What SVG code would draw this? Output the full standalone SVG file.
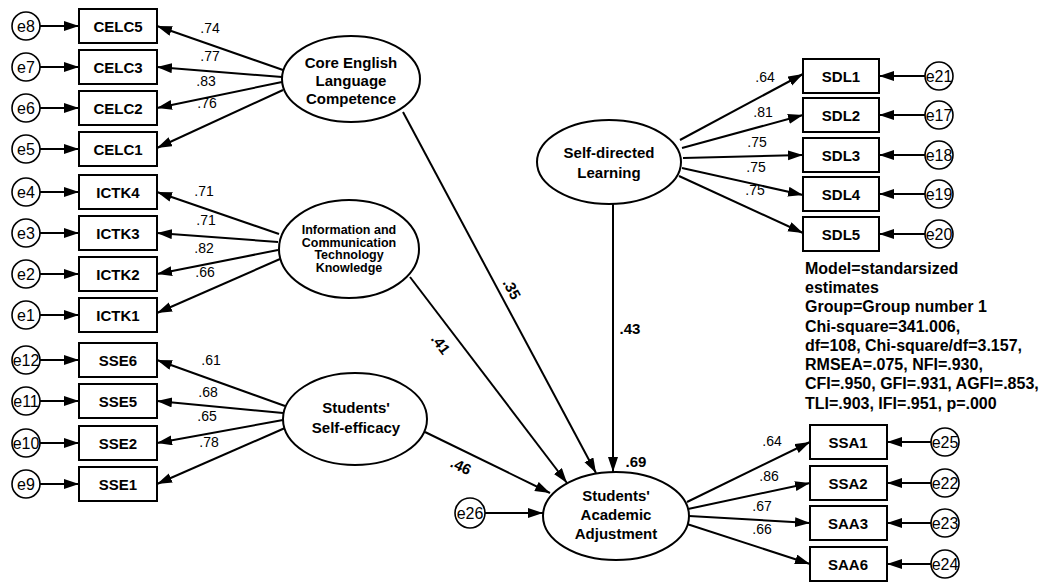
<svg xmlns="http://www.w3.org/2000/svg" width="1052" height="582" viewBox="0 0 1052 582">
<style>
.box{fill:#fff;stroke:#000;stroke-width:2}
.lat{fill:#fff;stroke:#000;stroke-width:2}
.err{fill:#fff;stroke:#000;stroke-width:1.6}
.ln{stroke:#000;stroke-width:2;fill:none;marker-end:url(#ah)}
.bt{font-family:"Liberation Sans",Arial,sans-serif;font-weight:bold;font-size:15px;text-anchor:middle;dominant-baseline:central}
.et{font-family:"Liberation Sans",Arial,sans-serif;font-size:16px;text-anchor:middle;dominant-baseline:central}
.lt{font-family:"Liberation Sans",Arial,sans-serif;font-weight:bold;font-size:15px;text-anchor:middle;dominant-baseline:central}
.it{font-family:"Liberation Sans",Arial,sans-serif;font-weight:bold;font-size:12.5px;text-anchor:middle}
.ld{font-family:"Liberation Sans",Arial,sans-serif;font-size:14px;text-anchor:middle;dominant-baseline:central}
.pc{font-family:"Liberation Sans",Arial,sans-serif;font-weight:bold;font-size:15px;text-anchor:middle;dominant-baseline:central}
.md{font-family:"Liberation Sans",Arial,sans-serif;font-weight:bold;font-size:16px}
</style>
<defs>
<marker id="ah" markerUnits="userSpaceOnUse" markerWidth="16" markerHeight="12" refX="15" refY="5" orient="auto">
<path d="M0,0 L15,5 L0,10 z" fill="#000"/>
</marker>
</defs>
<g id="connectors">
<line class="ln" x1="40" y1="26" x2="79" y2="26"/>
<line class="ln" x1="40" y1="67" x2="79" y2="67"/>
<line class="ln" x1="40" y1="108" x2="79" y2="108"/>
<line class="ln" x1="40" y1="149" x2="79" y2="149"/>
<line class="ln" x1="40" y1="192" x2="79" y2="192"/>
<line class="ln" x1="40" y1="233" x2="79" y2="233"/>
<line class="ln" x1="40" y1="274" x2="79" y2="274"/>
<line class="ln" x1="40" y1="315" x2="79" y2="315"/>
<line class="ln" x1="40" y1="360" x2="79" y2="360"/>
<line class="ln" x1="40" y1="401" x2="79" y2="401"/>
<line class="ln" x1="40" y1="443" x2="79" y2="443"/>
<line class="ln" x1="40" y1="484" x2="79" y2="484"/>
<line class="ln" x1="283" y1="70" x2="157" y2="26"/>
<line class="ln" x1="282" y1="77" x2="157" y2="67"/>
<line class="ln" x1="282" y1="82" x2="157" y2="108"/>
<line class="ln" x1="283" y1="90" x2="157" y2="148"/>
<line class="ln" x1="279" y1="234" x2="157" y2="192"/>
<line class="ln" x1="278" y1="242" x2="157" y2="233"/>
<line class="ln" x1="278" y1="250" x2="157" y2="274"/>
<line class="ln" x1="280" y1="259" x2="157" y2="313"/>
<line class="ln" x1="285" y1="406" x2="157" y2="360"/>
<line class="ln" x1="283" y1="413" x2="157" y2="401"/>
<line class="ln" x1="283" y1="420" x2="157" y2="443"/>
<line class="ln" x1="285" y1="428" x2="157" y2="484"/>
<line class="ln" x1="680" y1="140" x2="803" y2="74"/>
<line class="ln" x1="682" y1="148" x2="803" y2="115"/>
<line class="ln" x1="683" y1="158" x2="803" y2="155"/>
<line class="ln" x1="682" y1="168" x2="803" y2="195"/>
<line class="ln" x1="679" y1="176" x2="803" y2="233"/>
<line class="ln" x1="925" y1="76" x2="879" y2="76"/>
<line class="ln" x1="925" y1="115" x2="879" y2="115"/>
<line class="ln" x1="925" y1="155" x2="879" y2="155"/>
<line class="ln" x1="925" y1="194" x2="879" y2="194"/>
<line class="ln" x1="925" y1="234" x2="879" y2="234"/>
<line class="ln" x1="687" y1="502" x2="810" y2="442"/>
<line class="ln" x1="688" y1="509" x2="810" y2="483"/>
<line class="ln" x1="689" y1="516" x2="810" y2="523"/>
<line class="ln" x1="687" y1="524" x2="810" y2="564"/>
<line class="ln" x1="931" y1="442" x2="887" y2="442"/>
<line class="ln" x1="931" y1="483" x2="887" y2="483"/>
<line class="ln" x1="931" y1="523" x2="887" y2="523"/>
<line class="ln" x1="931" y1="564" x2="887" y2="564"/>
<line class="ln" x1="403" y1="112" x2="596" y2="473"/>
<line class="ln" x1="410" y1="277" x2="567" y2="483"/>
<line class="ln" x1="425" y1="432" x2="550" y2="493"/>
<line class="ln" x1="613" y1="204" x2="613" y2="472"/>
<line class="ln" x1="485" y1="513" x2="543" y2="513"/>
</g>
<g id="labels">
<text class="ld" x="210" y="28">.74</text>
<text class="ld" x="210" y="56">.77</text>
<text class="ld" x="206" y="81">.83</text>
<text class="ld" x="207" y="103">.76</text>
<text class="ld" x="204" y="191">.71</text>
<text class="ld" x="206" y="220">.71</text>
<text class="ld" x="204" y="248">.82</text>
<text class="ld" x="205" y="272">.66</text>
<text class="ld" x="211" y="360">.61</text>
<text class="ld" x="208" y="392">.68</text>
<text class="ld" x="207" y="416">.65</text>
<text class="ld" x="209" y="442">.78</text>
<text class="ld" x="765" y="77">.64</text>
<text class="ld" x="763" y="112">.81</text>
<text class="ld" x="757" y="142">.75</text>
<text class="ld" x="756" y="167">.75</text>
<text class="ld" x="755" y="190">.75</text>
<text class="ld" x="772" y="441">.64</text>
<text class="ld" x="769" y="476">.86</text>
<text class="ld" x="762" y="506">.67</text>
<text class="ld" x="762" y="529">.66</text>
<text class="pc" x="512" y="289" transform="rotate(61.6 512 289)">.35</text>
<text class="pc" x="441" y="344" transform="rotate(53 441 344)">.41</text>
<text class="pc" x="461" y="466" transform="rotate(26 461 466)">.46</text>
<text class="pc" x="630" y="328">.43</text>
<text class="pc" x="636" y="461">.69</text>
</g>
<g id="e8"><circle class="err" cx="26" cy="26" r="14"/><text class="et" x="26" y="26">e8</text></g>
<g id="e7"><circle class="err" cx="26" cy="67" r="14"/><text class="et" x="26" y="67">e7</text></g>
<g id="e6"><circle class="err" cx="26" cy="108" r="14"/><text class="et" x="26" y="108">e6</text></g>
<g id="e5"><circle class="err" cx="26" cy="149" r="14"/><text class="et" x="26" y="149">e5</text></g>
<g id="e4"><circle class="err" cx="26" cy="192" r="14"/><text class="et" x="26" y="192">e4</text></g>
<g id="e3"><circle class="err" cx="26" cy="233" r="14"/><text class="et" x="26" y="233">e3</text></g>
<g id="e2"><circle class="err" cx="26" cy="274" r="14"/><text class="et" x="26" y="274">e2</text></g>
<g id="e1"><circle class="err" cx="26" cy="315" r="14"/><text class="et" x="26" y="315">e1</text></g>
<g id="e12"><circle class="err" cx="26" cy="360" r="14"/><text class="et" x="26" y="360">e12</text></g>
<g id="e11"><circle class="err" cx="26" cy="401" r="14"/><text class="et" x="26" y="401">e11</text></g>
<g id="e10"><circle class="err" cx="26" cy="443" r="14"/><text class="et" x="26" y="443">e10</text></g>
<g id="e9"><circle class="err" cx="26" cy="484" r="14"/><text class="et" x="26" y="484">e9</text></g>
<g id="CELC5"><rect class="box" x="79" y="9" width="78" height="34"/><text class="bt" x="118" y="26">CELC5</text></g>
<g id="CELC3"><rect class="box" x="79" y="50" width="78" height="34"/><text class="bt" x="118" y="67">CELC3</text></g>
<g id="CELC2"><rect class="box" x="79" y="91" width="78" height="34"/><text class="bt" x="118" y="108">CELC2</text></g>
<g id="CELC1"><rect class="box" x="79" y="132" width="78" height="34"/><text class="bt" x="118" y="149">CELC1</text></g>
<g id="ICTK4"><rect class="box" x="79" y="175" width="78" height="34"/><text class="bt" x="118" y="192">ICTK4</text></g>
<g id="ICTK3"><rect class="box" x="79" y="216" width="78" height="34"/><text class="bt" x="118" y="233">ICTK3</text></g>
<g id="ICTK2"><rect class="box" x="79" y="257" width="78" height="34"/><text class="bt" x="118" y="274">ICTK2</text></g>
<g id="ICTK1"><rect class="box" x="79" y="298" width="78" height="34"/><text class="bt" x="118" y="315">ICTK1</text></g>
<g id="SSE6"><rect class="box" x="79" y="343" width="78" height="34"/><text class="bt" x="118" y="360">SSE6</text></g>
<g id="SSE5"><rect class="box" x="79" y="384" width="78" height="34"/><text class="bt" x="118" y="401">SSE5</text></g>
<g id="SSE2"><rect class="box" x="79" y="426" width="78" height="34"/><text class="bt" x="118" y="443">SSE2</text></g>
<g id="SSE1"><rect class="box" x="79" y="467" width="78" height="34"/><text class="bt" x="118" y="484">SSE1</text></g>
<g id="CoreEnglish"><ellipse class="lat" cx="351" cy="79" rx="69" ry="43"/>
<text class="lt" x="351" y="62">Core English</text><text class="lt" x="351" y="80">Language</text><text class="lt" x="351" y="98">Competence</text></g>
<g id="ICT"><ellipse class="lat" cx="349" cy="249" rx="70" ry="49"/>
<text class="it" x="349" y="234"><tspan x="349">Information and</tspan><tspan x="349" dy="12.5">Communication</tspan><tspan x="349" dy="12.5">Technology</tspan><tspan x="349" dy="12.5">Knowledge</tspan></text></g>
<g id="SSE"><ellipse class="lat" cx="355" cy="419" rx="72" ry="46"/>
<text class="lt" x="356" y="407">Students'</text><text class="lt" x="356" y="427">Self-efficacy</text></g>
<g id="SDL"><ellipse class="lat" cx="609" cy="162" rx="72" ry="42"/>
<text class="lt" x="609" y="152">Self-directed</text><text class="lt" x="609" y="172">Learning</text></g>
<g id="SAA"><ellipse class="lat" cx="616" cy="516" rx="73" ry="44"/>
<text class="lt" x="616" y="495">Students'</text><text class="lt" x="616" y="514">Academic</text><text class="lt" x="616" y="533">Adjustment</text></g>
<g id="e26"><circle class="err" cx="470" cy="513" r="15"/><text class="et" x="470" y="513">e26</text></g>
<g id="SDL1"><rect class="box" x="803" y="59" width="76" height="34"/><text class="bt" x="841" y="76">SDL1</text></g>
<g id="SDL2"><rect class="box" x="803" y="98" width="76" height="34"/><text class="bt" x="841" y="115">SDL2</text></g>
<g id="SDL3"><rect class="box" x="803" y="138" width="76" height="34"/><text class="bt" x="841" y="155">SDL3</text></g>
<g id="SDL4"><rect class="box" x="803" y="177" width="76" height="34"/><text class="bt" x="841" y="194">SDL4</text></g>
<g id="SDL5"><rect class="box" x="803" y="217" width="76" height="34"/><text class="bt" x="841" y="234">SDL5</text></g>
<g id="e21"><circle class="err" cx="939" cy="76" r="14"/><text class="et" x="939" y="76">e21</text></g>
<g id="e17"><circle class="err" cx="939" cy="115" r="14"/><text class="et" x="939" y="115">e17</text></g>
<g id="e18"><circle class="err" cx="939" cy="155" r="14"/><text class="et" x="939" y="155">e18</text></g>
<g id="e19"><circle class="err" cx="939" cy="194" r="14"/><text class="et" x="939" y="194">e19</text></g>
<g id="e20"><circle class="err" cx="939" cy="234" r="14"/><text class="et" x="939" y="234">e20</text></g>
<g id="SSA1"><rect class="box" x="810" y="425" width="77" height="34"/><text class="bt" x="848" y="442">SSA1</text></g>
<g id="SSA2"><rect class="box" x="810" y="466" width="77" height="34"/><text class="bt" x="848" y="483">SSA2</text></g>
<g id="SAA3"><rect class="box" x="810" y="506" width="77" height="34"/><text class="bt" x="848" y="523">SAA3</text></g>
<g id="SAA6"><rect class="box" x="810" y="547" width="77" height="34"/><text class="bt" x="848" y="564">SAA6</text></g>
<g id="e25"><circle class="err" cx="945" cy="442" r="14"/><text class="et" x="945" y="442">e25</text></g>
<g id="e22"><circle class="err" cx="945" cy="483" r="14"/><text class="et" x="945" y="483">e22</text></g>
<g id="e23"><circle class="err" cx="945" cy="523" r="14"/><text class="et" x="945" y="523">e23</text></g>
<g id="e24"><circle class="err" cx="945" cy="564" r="14"/><text class="et" x="945" y="564">e24</text></g>
<g id="model-info">
<text class="md" x="805" y="274">Model=standarsized</text>
<text class="md" x="805" y="293">estimates</text>
<text class="md" x="805" y="312">Group=Group number 1</text>
<text class="md" x="805" y="332">Chi-square=341.006,</text>
<text class="md" x="805" y="351">df=108, Chi-square/df=3.157,</text>
<text class="md" x="805" y="370">RMSEA=.075, NFI=.930,</text>
<text class="md" x="805" y="389">CFI=.950, GFI=.931, AGFI=.853,</text>
<text class="md" x="805" y="409">TLI=.903, IFI=.951, p=.000</text>
</g>
</svg>
